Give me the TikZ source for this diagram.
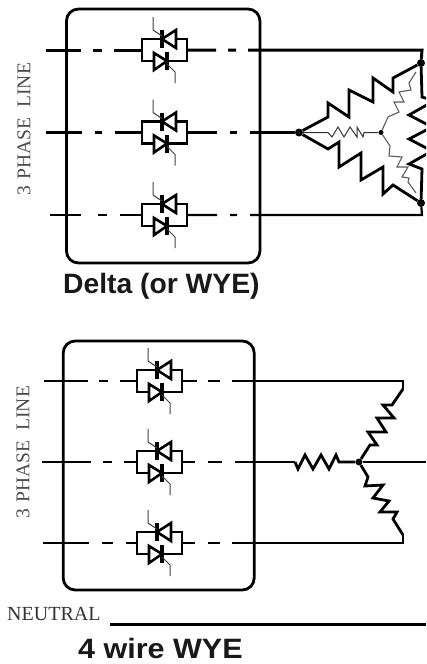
\documentclass[tikz,border=0pt]{standalone}
\usepackage{fontspec}
\usepackage{graphicx}
\setmainfont{Liberation Serif}
\newfontfamily\headfont{Liberation Sans}
\tikzset{
  x=1pt,y=-1pt,
  gatewire/.style={draw=black!75,line width=1pt},
  thyrbody/.style={draw=black,line width=2.6pt,line join=miter},
  housing/.style={draw=black,line width=2.8pt,rounded corners=12pt,inner sep=0pt},
  heavy/.style={draw=black,line width=3pt,line join=miter},
  medium/.style={draw=black,line width=2.2pt,line join=miter},
  coil/.style={draw=black,line width=2.8pt,line join=miter},
  fine/.style={draw=black!65,line width=1.1pt,line join=miter},
  finedark/.style={draw=black!80,line width=1pt,line join=miter},
  bigdot/.style={circle,fill=black,inner sep=0pt,minimum size=8pt},
  smalldot/.style={circle,fill=black,inner sep=0pt,minimum size=5pt},
  sidelabel/.style={text=black!70,font=\fontsize{19.5}{20}\selectfont,rotate=90,inner sep=0pt},
  title/.style={text=black!90,inner sep=0pt,anchor=base west},
  thyr/.pic={
    \coordinate (-w) at (0,0);
    \coordinate (-e) at (45,0);
    \draw[thyrbody] (0,-11) rectangle (45,11);
    % upper device, pointing left
    \fill[white] (20,-11) -- (34,-20) -- (34,-2) -- cycle;
    \draw[thyrbody] (20,-11) -- (34,-20) -- (34,-2) -- cycle;
    \draw[thyrbody,line width=3.4pt] (20,-20) -- (20,-2);
    \draw[gatewire] (11,-33) -- (11,-20) -- (20,-14);
    % lower device, pointing right
    \fill[white] (25,11) -- (12,3) -- (12,20) -- cycle;
    \draw[thyrbody] (25,11) -- (12,3) -- (12,20) -- cycle;
    \draw[thyrbody,line width=3.4pt] (25,2) -- (25,20);
    \draw[gatewire] (33,33) -- (33,22) -- (25,14);
  }
}
\begin{document}
\begin{tikzpicture}
\path[use as bounding box,clip] (0,0) rectangle (426,664);

% ---------- upper panel
\node[housing,minimum width=193.5pt,minimum height=254pt] (boxA) at (163.2,136) {};
\pic (a1) at (142,50) {thyr};
\pic (a2) at (142,132.5) {thyr};
\pic (a3) at (142,215) {thyr};
\coordinate (a1in) at (46,50);
\coordinate (a2in) at (46,132.5);
\coordinate (a3in) at (50,215);
\coordinate (acornT) at (422,50);
\coordinate (acornB) at (422,215);
\node[bigdot] (dT) at (421,63) {};
\node[bigdot] (dB) at (421,203) {};
\node[bigdot] (dL) at (299,132.5) {};
\node[smalldot] (dC) at (381,132.5) {};

\draw[heavy,dash pattern=on 35pt off 12pt on 9pt off 12pt on 100pt] (a1in) -- (a1-w);
\draw[heavy,dash pattern=on 36pt off 13pt on 7pt off 13pt on 100pt] (a2in) -- (a2-w);
\draw[medium,dash pattern=on 31pt off 17pt on 9pt off 13pt on 100pt] (a3in) -- (a3-w);
\draw[heavy,dash pattern=on 29pt off 12pt on 8pt off 12pt on 900pt] (a1-e) -- (acornT) -- (dT);
\draw[heavy,dash pattern=on 30pt off 13pt on 7pt off 13pt on 900pt] (a2-e) -- (dL);
\draw[medium,dash pattern=on 30pt off 13pt on 7pt off 13pt on 900pt] (a3-e) -- (acornB) -- (dB);

\draw[coil] (dL) -- (328,117) -- (328,103) -- (349,117) -- (349,90) -- (373,102) -- (373,78) -- (393,92) -- (393,78) -- (dT);
\draw[coil] (dL) -- (328,149) -- (339,142) -- (339,167) -- (361,153) -- (361,180) -- (383,167) -- (383,194) -- (393,185) -- (dB);
\draw[coil] (dT) -- (422,97) -- (432,100) (432,102) -- (409,115) -- (432,127) -- (409,139) -- (432,151) -- (409,164) -- (422,169) -- (dB);

\draw[finedark] (dL) -- (328,132.5) -- (332,137) -- (338,127) -- (344,137) -- (350,127) -- (357,137) -- (357,127) -- (363,137) -- (364,132.5) -- (dC);
\draw[fine] (dC) -- (388,117) -- (399,112) -- (394,102) -- (404,102) -- (399,92) -- (411,90) -- (409,83) -- (416,72);
\draw[fine] (dC) -- (390,146) -- (389,156) -- (402,157) -- (397,167) -- (408,167) -- (402,177) -- (409,178) -- (408,182) -- (416,193);

\node[sidelabel] (labA) at (24,129.5) {3\hspace{7pt}PHASE\hspace{10pt}LINE};
\node[title] (titleA) at (63,293) {\headfont\bfseries\fontsize{28}{30}\selectfont\scalebox{1.01}[1]{Delta (or WYE)}};

% ---------- lower panel
\node[housing,minimum width=191pt,minimum height=249pt] (boxB) at (158.7,465.5) {};
\pic (b1) at (137,381) {thyr};
\pic (b2) at (137,462) {thyr};
\pic (b3) at (137,543) {thyr};
\coordinate (b1in) at (44,381);
\coordinate (b2in) at (42,462);
\coordinate (b3in) at (43,543);
\coordinate (bcornT) at (403,381);
\coordinate (bcornB) at (403,543);
\coordinate (bRin) at (295,462);
\coordinate (bNout) at (426,462);
\coordinate (nA) at (110,624);
\coordinate (nB) at (426,624);
\node[bigdot,minimum size=7pt] (dN) at (359,462) {};

\draw[medium,dash pattern=on 44pt off 11pt on 9pt off 12pt on 100pt] (b1in) -- (b1-w);
\draw[medium,dash pattern=on 49pt off 12pt on 9pt off 12pt on 100pt] (b2in) -- (b2-w);
\draw[medium,dash pattern=on 46pt off 13pt on 11pt off 13pt on 100pt] (b3in) -- (b3-w);
\draw[medium,dash pattern=on 15pt off 11pt on 12pt off 12pt on 900pt] (b1-e) -- (bcornT) -- (403,389);
\draw[medium,dash pattern=on 13pt off 13pt on 14pt off 13pt on 900pt] (b2-e) -- (bRin);
\draw[medium,dash pattern=on 13pt off 13pt on 12pt off 12pt on 900pt] (b3-e) -- (bcornB) -- (403,535);
\draw[medium] (dN) -- (bNout);

\draw[coil] (bRin) -- (298,469) -- (305,455) -- (313,469) -- (321,455) -- (329,469) -- (336,455) -- (339,462) -- (dN);
\draw[coil] (403,389) -- (392,405) -- (383,405) -- (394,418) -- (377,418) -- (386,432) -- (368,432) -- (377,445) -- (370,445) -- (dN);
\draw[coil] (dN) -- (368,477) -- (365,486) -- (383,485) -- (373,498) -- (389,501) -- (380,512) -- (397,512) -- (393,519) -- (403,535);

\node[sidelabel] (labB) at (23,452.5) {3\hspace{7pt}PHASE\hspace{10pt}LINE};
\node[text=black!80,font=\fontsize{20}{22}\selectfont,inner sep=0pt,anchor=base west] (neutralLabel) at (7,620) {NEUTRAL};
\draw[heavy] (nA) -- (nB);
\node[title] (titleB) at (78,658) {\headfont\bfseries\fontsize{28}{30}\selectfont\scalebox{1.09}[1]{4 wire WYE}};
\end{tikzpicture}
\end{document}
